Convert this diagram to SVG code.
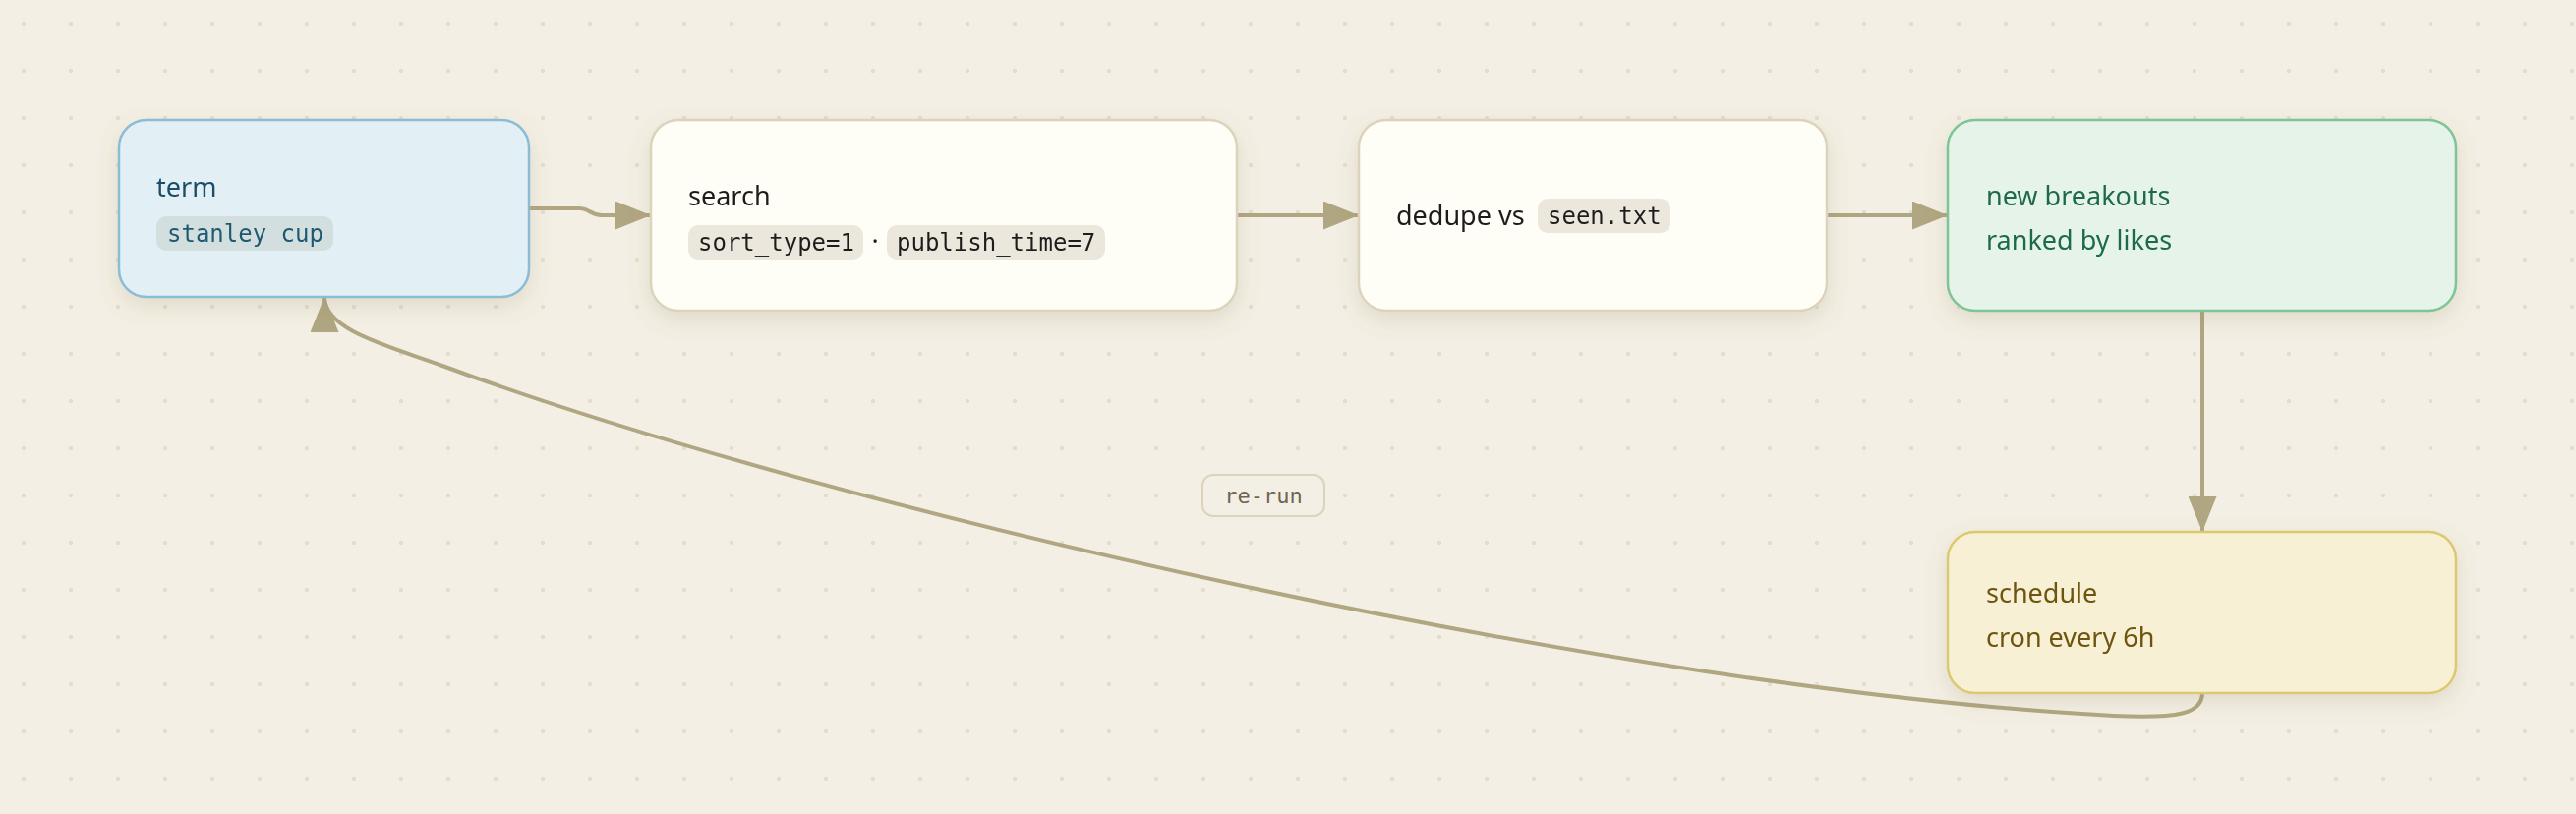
<svg xmlns="http://www.w3.org/2000/svg" width="2620" height="828" viewBox="0 0 2620 828">
<defs>
<pattern id="dots" x="0" y="0" width="48" height="48" patternUnits="userSpaceOnUse">
<circle cx="24" cy="24" r="2.2" fill="#e3ddcf"/>
</pattern>
<filter id="shadow" x="-20%" y="-30%" width="140%" height="170%">
<feDropShadow dx="0" dy="8" stdDeviation="11" flood-color="#7a6a3c" flood-opacity="0.16"/>
</filter>
<marker id="arrow" viewBox="0 0 36 29" refX="36" refY="14.5" markerWidth="36" markerHeight="29" markerUnits="userSpaceOnUse" orient="auto">
<path d="M0,0 L36,14.5 L0,29 z" fill="#b1a682"/>
</marker>
<style>
.lbl{font-family:"Noto Sans","Open Sans","Liberation Sans",sans-serif;font-size:27px}
.mono{font-family:"DejaVu Sans Mono","Liberation Mono",monospace;font-size:24px}
.edge{fill:none;stroke:#b1a682;stroke-width:4}
.plain{fill:#fefdf6;stroke:#ddd3bd;stroke-width:2.5}
.chip{fill:#ebe7dd}
.dark{fill:#1e1e1e}
</style>
</defs>
<rect width="2620" height="828" fill="#f3efe4"/>
<rect width="2620" height="828" fill="url(#dots)"/>

<g id="connectors">
<path class="edge" d="M538,212 L590,212 C600,212 600,219 612,219 L662,219" marker-end="url(#arrow)"/>
<path class="edge" d="M1258,219 L1382,219" marker-end="url(#arrow)"/>
<path class="edge" d="M1858,219 L1981,219" marker-end="url(#arrow)"/>
<path class="edge" d="M2240,316 L2240,541" marker-end="url(#arrow)"/>
<path class="edge" d="M2240,705 C2240,726 2215,731 2150,728 C1650,702 850,520 450,372 C395,352 330,336 330,302" marker-end="url(#arrow)"/>
<g id="rerun-label">
<rect x="1223" y="483" width="124" height="42" rx="11" fill="#f3efe4" stroke="#ddd3bd" stroke-width="2"/>
<text x="1285" y="512" text-anchor="middle" font-family="DejaVu Sans Mono, Liberation Mono, monospace" font-size="22" fill="#6e6452">re-run</text>
</g>
</g>

<g id="term" filter="url(#shadow)">
<rect x="121" y="122" width="417" height="180" rx="28" fill="#e2eff5" stroke="#8bbcd6" stroke-width="2.5"/>
<text class="lbl" x="159" y="200" fill="#1d4e68">term</text>
<rect x="159" y="220" width="180" height="35" rx="10" fill="#d3dedf"/>
<text class="mono" x="170" y="246" fill="#1f5a72">stanley cup</text>
</g>

<g id="search" filter="url(#shadow)">
<rect class="plain" x="662" y="122" width="596" height="194" rx="28"/>
<text class="lbl dark" x="700" y="209">search</text>
<rect class="chip" x="700" y="229" width="178" height="35" rx="10"/>
<text class="mono dark" x="710" y="255">sort_type=1</text>
<text class="lbl dark" x="890" y="255" text-anchor="middle">·</text>
<rect class="chip" x="902" y="229" width="222" height="35" rx="10"/>
<text class="mono dark" x="912" y="255">publish_time=7</text>
</g>

<g id="dedupe" filter="url(#shadow)">
<rect class="plain" x="1382" y="122" width="476" height="194" rx="28"/>
<text class="lbl dark" x="1420" y="229">dedupe vs</text>
<rect class="chip" x="1564" y="202" width="135" height="35" rx="10"/>
<text class="mono dark" x="1574" y="228">seen.txt</text>
</g>

<g id="new-breakouts" filter="url(#shadow)">
<rect x="1981" y="122" width="517" height="194" rx="28" fill="#e5f3e9" stroke="#7ec497" stroke-width="2.5"/>
<text class="lbl" x="2020" y="209" fill="#1f6b4a">new breakouts</text>
<text class="lbl" x="2020" y="254" fill="#1f6b4a">ranked by likes</text>
</g>

<g id="schedule" filter="url(#shadow)">
<rect x="1981" y="541" width="517" height="164" rx="28" fill="#f7f0d4" stroke="#dcc870" stroke-width="2.5"/>
<text class="lbl" x="2020" y="613" fill="#6e5511">schedule</text>
<text class="lbl" x="2020" y="658" fill="#6e5511">cron every 6h</text>
</g>
</svg>
